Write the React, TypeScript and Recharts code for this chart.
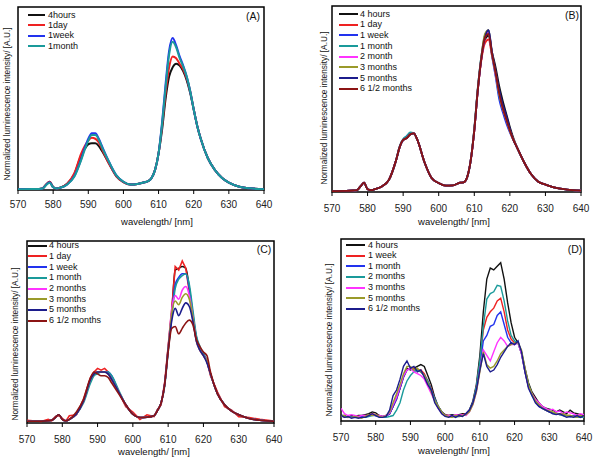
import React from 'react';
import { LineChart, Line, XAxis, YAxis, ReferenceArea } from 'recharts';

const FONT = '"Liberation Sans", Arial, Helvetica, sans-serif';

const TICKS = [570, 580, 590, 600, 610, 620, 630, 640];

const W = [570, 574, 576, 577, 578, 579, 580, 581, 582, 584, 586, 588, 589, 590, 591, 592, 593, 594, 596, 598, 600, 602, 604, 606, 607, 608, 609, 610, 611, 612, 613, 614, 615, 616, 617, 618, 619, 620, 621, 622, 624, 626, 628, 630, 633, 636, 640];

const W_FINE = [570, 571, 572, 573, 574, 575, 576, 577, 578, 579, 580, 581, 582, 583, 584, 585, 586, 587, 588, 589, 590, 591, 592, 593, 594, 595, 596, 597, 598, 599, 600, 601, 602, 603, 604, 605, 606, 607, 608, 609, 610, 611, 612, 613, 614, 615, 616, 617, 618, 619, 620, 621, 622, 623, 624, 625, 626, 627, 628, 629, 630, 631, 632, 633, 634, 635, 636, 637, 638, 639, 640];

// ---------- Panel A ----------
const A_4HOURS = [0.004, 0.005, 0.006, 0.009, 0.03, 0.045, 0.016, 0.008, 0.013,
  0.034, 0.085, 0.19, 0.225, 0.25, 0.255, 0.255, 0.24, 0.21,
  0.14, 0.075, 0.043, 0.03, 0.033, 0.042, 0.048, 0.066, 0.11,
  0.2, 0.33, 0.5, 0.62, 0.67, 0.69, 0.68, 0.65, 0.6,
  0.53, 0.44, 0.35, 0.28, 0.175, 0.11, 0.067, 0.04, 0.018,
  0.009, 0.004];
const A_1DAY = [0.004, 0.005, 0.006, 0.009, 0.03, 0.045, 0.016, 0.008, 0.013,
  0.035, 0.09, 0.2, 0.24, 0.27, 0.285, 0.28, 0.26, 0.22,
  0.14, 0.075, 0.043, 0.03, 0.033, 0.042, 0.048, 0.066, 0.11,
  0.2, 0.35, 0.53, 0.67, 0.73, 0.72, 0.69, 0.66, 0.61,
  0.54, 0.44, 0.35, 0.28, 0.175, 0.11, 0.067, 0.04, 0.018,
  0.009, 0.004];
const A_1WEEK = [0.004, 0.005, 0.006, 0.008, 0.028, 0.043, 0.015, 0.008, 0.012,
  0.03, 0.075, 0.17, 0.23, 0.28, 0.31, 0.31, 0.28, 0.235,
  0.15, 0.08, 0.045, 0.03, 0.033, 0.042, 0.048, 0.066, 0.11,
  0.2, 0.37, 0.58, 0.76, 0.83, 0.79, 0.73, 0.68, 0.62,
  0.54, 0.44, 0.35, 0.28, 0.175, 0.11, 0.067, 0.04, 0.018,
  0.009, 0.004];
const A_1MONTH = [0.004, 0.005, 0.006, 0.008, 0.026, 0.04, 0.015, 0.008, 0.012,
  0.03, 0.072, 0.165, 0.22, 0.27, 0.3, 0.3, 0.275, 0.23,
  0.15, 0.08, 0.045, 0.03, 0.033, 0.042, 0.048, 0.066, 0.11,
  0.2, 0.36, 0.56, 0.74, 0.81, 0.78, 0.72, 0.675, 0.62,
  0.54, 0.44, 0.35, 0.28, 0.175, 0.11, 0.067, 0.04, 0.018,
  0.009, 0.004];

// ---------- Panel B ----------
const B_4H = [0.005, 0.006, 0.008, 0.01, 0.03, 0.05, 0.015, 0.01, 0.015,
  0.03, 0.065, 0.17, 0.24, 0.28, 0.29, 0.31, 0.315, 0.28,
  0.16, 0.075, 0.048, 0.034, 0.036, 0.05, 0.052, 0.08, 0.17,
  0.33, 0.55, 0.72, 0.82, 0.84, 0.75, 0.67, 0.57, 0.49,
  0.42, 0.35, 0.29, 0.24, 0.16, 0.095, 0.055, 0.04, 0.022,
  0.013, 0.007];
const B_1D = [0.005, 0.006, 0.008, 0.01, 0.03, 0.05, 0.015, 0.01, 0.015,
  0.03, 0.065, 0.17, 0.24, 0.28, 0.29, 0.31, 0.315, 0.28,
  0.16, 0.075, 0.048, 0.034, 0.036, 0.05, 0.052, 0.08, 0.17,
  0.33, 0.55, 0.71, 0.8, 0.82, 0.73, 0.64, 0.53, 0.45,
  0.39, 0.33, 0.28, 0.24, 0.16, 0.095, 0.055, 0.04, 0.022,
  0.013, 0.007];
const B_1W = [0.005, 0.006, 0.008, 0.01, 0.03, 0.05, 0.015, 0.01, 0.015,
  0.03, 0.065, 0.17, 0.24, 0.28, 0.3, 0.315, 0.315, 0.28,
  0.16, 0.075, 0.048, 0.034, 0.036, 0.05, 0.052, 0.08, 0.17,
  0.34, 0.56, 0.73, 0.84, 0.87, 0.73, 0.62, 0.5, 0.43,
  0.37, 0.32, 0.28, 0.24, 0.16, 0.095, 0.055, 0.04, 0.022,
  0.013, 0.007];
const B_1M = [0.005, 0.006, 0.008, 0.01, 0.03, 0.05, 0.015, 0.01, 0.015,
  0.03, 0.065, 0.17, 0.245, 0.285, 0.3, 0.32, 0.315, 0.28,
  0.16, 0.075, 0.048, 0.034, 0.036, 0.05, 0.052, 0.08, 0.17,
  0.34, 0.56, 0.73, 0.84, 0.86, 0.74, 0.63, 0.52, 0.45,
  0.39, 0.33, 0.28, 0.24, 0.16, 0.095, 0.055, 0.04, 0.022,
  0.013, 0.007];
const B_2M = [0.005, 0.006, 0.008, 0.01, 0.03, 0.05, 0.015, 0.01, 0.015,
  0.03, 0.065, 0.17, 0.24, 0.28, 0.29, 0.31, 0.315, 0.28,
  0.16, 0.075, 0.048, 0.034, 0.036, 0.05, 0.052, 0.08, 0.17,
  0.33, 0.55, 0.72, 0.83, 0.86, 0.74, 0.63, 0.53, 0.45,
  0.39, 0.33, 0.28, 0.24, 0.16, 0.095, 0.055, 0.04, 0.022,
  0.013, 0.007];
const B_3M = [0.005, 0.006, 0.008, 0.01, 0.03, 0.05, 0.015, 0.01, 0.015,
  0.03, 0.065, 0.17, 0.24, 0.28, 0.29, 0.31, 0.315, 0.28,
  0.16, 0.075, 0.048, 0.034, 0.036, 0.05, 0.052, 0.08, 0.17,
  0.34, 0.56, 0.73, 0.85, 0.87, 0.74, 0.64, 0.53, 0.45,
  0.39, 0.33, 0.28, 0.24, 0.16, 0.095, 0.055, 0.04, 0.022,
  0.013, 0.007];
const B_5M = [0.005, 0.006, 0.008, 0.01, 0.03, 0.05, 0.015, 0.01, 0.015,
  0.03, 0.065, 0.17, 0.24, 0.28, 0.29, 0.31, 0.315, 0.28,
  0.16, 0.075, 0.048, 0.034, 0.036, 0.05, 0.052, 0.08, 0.17,
  0.33, 0.55, 0.72, 0.83, 0.87, 0.75, 0.65, 0.55, 0.47,
  0.41, 0.34, 0.28, 0.24, 0.16, 0.095, 0.055, 0.04, 0.022,
  0.013, 0.007];
const B_6H = [0.005, 0.006, 0.008, 0.01, 0.03, 0.05, 0.015, 0.01, 0.015,
  0.03, 0.065, 0.17, 0.24, 0.28, 0.29, 0.31, 0.315, 0.28,
  0.16, 0.075, 0.048, 0.034, 0.036, 0.05, 0.052, 0.08, 0.17,
  0.33, 0.55, 0.72, 0.83, 0.85, 0.74, 0.64, 0.53, 0.45,
  0.39, 0.33, 0.28, 0.24, 0.16, 0.095, 0.055, 0.04, 0.022,
  0.013, 0.007];

// ---------- Panel C ----------
const C_4H = [0.01, 0.01, 0.012, 0.015, 0.03, 0.045, 0.02, 0.012, 0.02,
  0.05, 0.12, 0.24, 0.27, 0.28, 0.28, 0.28, 0.27, 0.24,
  0.17, 0.1, 0.048, 0.03, 0.032, 0.04, 0.07, 0.11, 0.21,
  0.41, 0.6, 0.84, 0.85, 0.86, 0.85, 0.74, 0.58, 0.46,
  0.41, 0.38, 0.34, 0.27, 0.16, 0.1, 0.065, 0.045, 0.025,
  0.015, 0.01];
const C_1D = [0.015, 0.008, 0.02, 0.012, 0.035, 0.04, 0.025, 0.01, 0.04,
  0.045, 0.13, 0.25, 0.28, 0.3, 0.29, 0.3, 0.28, 0.24,
  0.17, 0.09, 0.06, 0.02, 0.045, 0.035, 0.075, 0.1, 0.22,
  0.42, 0.62, 0.86, 0.84, 0.89, 0.85, 0.72, 0.57, 0.47,
  0.4, 0.37, 0.34, 0.26, 0.17, 0.09, 0.07, 0.035, 0.03,
  0.02, 0.01];
const C_1W = [0.01, 0.01, 0.012, 0.015, 0.03, 0.045, 0.02, 0.012, 0.02,
  0.05, 0.12, 0.23, 0.27, 0.28, 0.28, 0.28, 0.28, 0.26,
  0.17, 0.1, 0.048, 0.03, 0.032, 0.04, 0.07, 0.11, 0.21,
  0.4, 0.6, 0.76, 0.8, 0.82, 0.82, 0.74, 0.6, 0.47,
  0.41, 0.38, 0.34, 0.27, 0.16, 0.1, 0.065, 0.045, 0.025,
  0.015, 0.01];
const C_1M = [0.01, 0.01, 0.012, 0.015, 0.03, 0.045, 0.02, 0.012, 0.02,
  0.05, 0.11, 0.22, 0.26, 0.27, 0.28, 0.28, 0.28, 0.26,
  0.18, 0.1, 0.048, 0.03, 0.032, 0.04, 0.07, 0.11, 0.2,
  0.39, 0.58, 0.74, 0.79, 0.81, 0.82, 0.76, 0.62, 0.48,
  0.42, 0.38, 0.34, 0.27, 0.16, 0.1, 0.065, 0.045, 0.025,
  0.015, 0.01];
const C_2M = [0.01, 0.01, 0.012, 0.015, 0.03, 0.045, 0.02, 0.012, 0.02,
  0.05, 0.12, 0.24, 0.27, 0.28, 0.28, 0.28, 0.27, 0.24,
  0.17, 0.1, 0.048, 0.03, 0.032, 0.04, 0.07, 0.11, 0.21,
  0.41, 0.62, 0.7, 0.68, 0.73, 0.75, 0.7, 0.58, 0.45,
  0.4, 0.37, 0.34, 0.27, 0.16, 0.1, 0.065, 0.045, 0.025,
  0.015, 0.01];
const C_3M = [0.01, 0.01, 0.012, 0.015, 0.03, 0.045, 0.02, 0.012, 0.02,
  0.05, 0.12, 0.24, 0.27, 0.28, 0.28, 0.28, 0.27, 0.24,
  0.17, 0.1, 0.048, 0.03, 0.032, 0.04, 0.07, 0.11, 0.21,
  0.41, 0.6, 0.67, 0.65, 0.69, 0.71, 0.68, 0.58, 0.45,
  0.4, 0.37, 0.34, 0.27, 0.16, 0.1, 0.065, 0.045, 0.025,
  0.015, 0.01];
const C_5M = [0.01, 0.01, 0.012, 0.015, 0.03, 0.045, 0.02, 0.012, 0.02,
  0.05, 0.12, 0.24, 0.27, 0.28, 0.28, 0.28, 0.27, 0.24,
  0.17, 0.1, 0.048, 0.03, 0.032, 0.04, 0.07, 0.11, 0.21,
  0.4, 0.56, 0.63, 0.59, 0.63, 0.66, 0.64, 0.56, 0.45,
  0.4, 0.37, 0.33, 0.27, 0.16, 0.1, 0.065, 0.045, 0.025,
  0.015, 0.01];
const C_6H = [0.01, 0.01, 0.012, 0.015, 0.03, 0.045, 0.02, 0.012, 0.02,
  0.06, 0.13, 0.25, 0.28, 0.27, 0.26, 0.26, 0.25, 0.22,
  0.16, 0.1, 0.048, 0.03, 0.032, 0.04, 0.07, 0.11, 0.21,
  0.39, 0.52, 0.53, 0.49, 0.52, 0.55, 0.565, 0.54, 0.46,
  0.42, 0.39, 0.37, 0.28, 0.16, 0.1, 0.065, 0.045, 0.025,
  0.015, 0.01];

// ---------- Panel D ----------
const D_4H = [0.03, 0.03, 0.02, 0.03, 0.025, 0.03, 0.03, 0.035, 0.04, 0.05,
  0.045, 0.03, 0.025, 0.03, 0.04, 0.08, 0.13, 0.18, 0.25, 0.29,
  0.28, 0.29, 0.3, 0.31, 0.3, 0.25, 0.2, 0.13, 0.08, 0.05,
  0.035, 0.03, 0.035, 0.03, 0.035, 0.04, 0.04, 0.06, 0.11, 0.2,
  0.36, 0.6, 0.78, 0.84, 0.83, 0.85, 0.87, 0.78, 0.65, 0.54,
  0.46, 0.43, 0.38, 0.29, 0.21, 0.16, 0.13, 0.1, 0.08, 0.07,
  0.065, 0.06, 0.05, 0.06, 0.05, 0.04, 0.06, 0.045, 0.04, 0.035, 0.03];
const D_1W = [0.03, 0.02, 0.025, 0.02, 0.02, 0.025, 0.02, 0.025, 0.03, 0.04,
  0.035, 0.025, 0.02, 0.03, 0.04, 0.08, 0.12, 0.18, 0.24, 0.28,
  0.29, 0.29, 0.28, 0.28, 0.26, 0.22, 0.18, 0.12, 0.08, 0.05,
  0.03, 0.03, 0.025, 0.03, 0.03, 0.035, 0.04, 0.06, 0.1, 0.19,
  0.32, 0.5, 0.57, 0.6, 0.62, 0.66, 0.675, 0.6, 0.5, 0.45,
  0.43, 0.43, 0.37, 0.27, 0.19, 0.15, 0.11, 0.09, 0.07, 0.06,
  0.05, 0.045, 0.04, 0.04, 0.035, 0.03, 0.03, 0.025, 0.03, 0.025, 0.02];
const D_1M = [0.03, 0.025, 0.02, 0.025, 0.02, 0.02, 0.025, 0.02, 0.03, 0.035,
  0.03, 0.025, 0.02, 0.025, 0.04, 0.08, 0.12, 0.18, 0.24, 0.28,
  0.29, 0.28, 0.28, 0.27, 0.25, 0.22, 0.17, 0.12, 0.08, 0.05,
  0.03, 0.025, 0.03, 0.025, 0.03, 0.03, 0.04, 0.06, 0.1, 0.18,
  0.3, 0.44, 0.47, 0.52, 0.53, 0.58, 0.6, 0.53, 0.46, 0.43,
  0.42, 0.43, 0.37, 0.27, 0.19, 0.14, 0.11, 0.08, 0.07, 0.06,
  0.05, 0.045, 0.04, 0.035, 0.03, 0.03, 0.025, 0.03, 0.02, 0.025, 0.02];
const D_2M = [0.025, 0.025, 0.02, 0.02, 0.02, 0.02, 0.02, 0.02, 0.025, 0.03,
  0.03, 0.025, 0.02, 0.02, 0.025, 0.03, 0.06, 0.1, 0.17, 0.22,
  0.25, 0.27, 0.28, 0.27, 0.25, 0.22, 0.17, 0.12, 0.08, 0.05,
  0.03, 0.025, 0.025, 0.025, 0.025, 0.03, 0.035, 0.06, 0.1, 0.19,
  0.33, 0.52, 0.67, 0.7, 0.71, 0.745, 0.74, 0.66, 0.55, 0.47,
  0.44, 0.43, 0.37, 0.28, 0.2, 0.15, 0.11, 0.09, 0.07, 0.06,
  0.05, 0.045, 0.04, 0.035, 0.03, 0.03, 0.025, 0.025, 0.02, 0.02, 0.02];
const D_3M = [0.07, 0.04, 0.03, 0.035, 0.03, 0.025, 0.03, 0.03, 0.03, 0.035,
  0.03, 0.03, 0.025, 0.03, 0.045, 0.09, 0.13, 0.19, 0.25, 0.28,
  0.29, 0.27, 0.26, 0.25, 0.23, 0.19, 0.15, 0.11, 0.07, 0.045,
  0.03, 0.03, 0.025, 0.035, 0.03, 0.035, 0.03, 0.05, 0.09, 0.16,
  0.28, 0.39, 0.36, 0.33, 0.38, 0.43, 0.46, 0.44, 0.41, 0.42,
  0.42, 0.43, 0.37, 0.28, 0.19, 0.15, 0.12, 0.1, 0.08, 0.07,
  0.06, 0.065, 0.05, 0.055, 0.04, 0.05, 0.045, 0.04, 0.03, 0.04, 0.035];
const D_5M = [0.025, 0.03, 0.02, 0.02, 0.025, 0.02, 0.015, 0.025, 0.035, 0.03,
  0.035, 0.025, 0.02, 0.03, 0.05, 0.1, 0.15, 0.2, 0.26, 0.3,
  0.3, 0.28, 0.29, 0.27, 0.25, 0.21, 0.16, 0.11, 0.08, 0.05,
  0.03, 0.025, 0.02, 0.03, 0.025, 0.03, 0.035, 0.05, 0.09, 0.16,
  0.27, 0.38, 0.31, 0.29, 0.3, 0.33, 0.37, 0.39, 0.41, 0.42,
  0.43, 0.43, 0.39, 0.29, 0.2, 0.15, 0.11, 0.09, 0.07, 0.06,
  0.055, 0.05, 0.04, 0.035, 0.04, 0.03, 0.03, 0.025, 0.02, 0.03, 0.025];
const D_6H = [0.03, 0.02, 0.025, 0.015, 0.02, 0.015, 0.02, 0.02, 0.03, 0.04,
  0.03, 0.02, 0.02, 0.025, 0.06, 0.14, 0.17, 0.23, 0.3, 0.33,
  0.29, 0.3, 0.27, 0.28, 0.24, 0.2, 0.17, 0.1, 0.07, 0.04,
  0.025, 0.02, 0.03, 0.02, 0.03, 0.025, 0.04, 0.06, 0.1, 0.17,
  0.28, 0.37, 0.3, 0.27, 0.28, 0.31, 0.35, 0.38, 0.41, 0.43,
  0.42, 0.44, 0.38, 0.27, 0.18, 0.14, 0.1, 0.08, 0.07, 0.06,
  0.05, 0.04, 0.035, 0.04, 0.03, 0.02, 0.025, 0.02, 0.03, 0.02, 0.03];

const COL = {
  black: '#111111',
  red: '#ee2222',
  blue: '#2233ee',
  teal: '#1a9a9a',
  magenta: '#ff33ff',
  olive: '#9a9a2a',
  navy: '#1c1c8c',
  darkred: '#8c1414',
};

type S = { key: string; name: string; color: string; values: number[]; type?: 'monotone' | 'linear' };

const SERIES_A: S[] = [
  { key: 'a0', name: '4hours', color: COL.black, values: A_4HOURS },
  { key: 'a1', name: '1day', color: COL.red, values: A_1DAY },
  { key: 'a2', name: '1week', color: COL.blue, values: A_1WEEK },
  { key: 'a3', name: '1month', color: COL.teal, values: A_1MONTH },
];
const SERIES_B: S[] = [
  { key: 'b0', name: '4 hours', color: COL.black, values: B_4H },
  { key: 'b1', name: '1 day', color: COL.red, values: B_1D },
  { key: 'b2', name: '1 week', color: COL.blue, values: B_1W },
  { key: 'b3', name: '1 month', color: COL.teal, values: B_1M },
  { key: 'b4', name: '2 month', color: COL.magenta, values: B_2M },
  { key: 'b5', name: '3 months', color: COL.olive, values: B_3M },
  { key: 'b6', name: '5 months', color: COL.navy, values: B_5M },
  { key: 'b7', name: '6 1/2 months', color: COL.darkred, values: B_6H },
];
const SERIES_C: S[] = [
  { key: 'c0', name: '4 hours', color: COL.black, values: C_4H },
  { key: 'c1', name: '1 day', color: COL.red, values: C_1D, type: 'linear' },
  { key: 'c2', name: '1 week', color: COL.blue, values: C_1W },
  { key: 'c3', name: '1 month', color: COL.teal, values: C_1M },
  { key: 'c4', name: '2 months', color: COL.magenta, values: C_2M },
  { key: 'c5', name: '3 months', color: COL.olive, values: C_3M },
  { key: 'c6', name: '5 months', color: COL.navy, values: C_5M },
  { key: 'c7', name: '6 1/2 months', color: COL.darkred, values: C_6H },
];
const SERIES_D: S[] = [
  { key: 'd0', name: '4 hours', color: COL.black, values: D_4H, type: 'linear' },
  { key: 'd1', name: '1 week', color: COL.red, values: D_1W, type: 'linear' },
  { key: 'd2', name: '1 month', color: COL.blue, values: D_1M, type: 'linear' },
  { key: 'd3', name: '2 months', color: COL.teal, values: D_2M, type: 'linear' },
  { key: 'd4', name: '3 months', color: COL.magenta, values: D_3M, type: 'linear' },
  { key: 'd5', name: '5 months', color: COL.olive, values: D_5M, type: 'linear' },
  { key: 'd6', name: '6 1/2 months', color: COL.navy, values: D_6H, type: 'linear' },
];

type PanelProps = {
  box: [number, number, number, number];
  plot: [number, number, number, number];
  grid: number[];
  series: S[];
  label: string;
  labelPos: [number, number];
  legend: { lx0: number; lx1: number; tx: number; y0: number; dy: number };
  xTitlePos: [number, number];
  yTitlePos: [number, number];
  strokeW: number;
  tickMargin: number;
};

function Panel(p: PanelProps) {
  const [bx, by, bw, bh] = p.box;
  const [x0, x1, y0, y1] = p.plot;
  const data = p.grid.map((w, i) => {
    const o: Record<string, number> = { w };
    p.series.forEach((s) => {
      o[s.key] = s.values[i];
    });
    return o;
  });
  const textStyle: React.CSSProperties = {
    position: 'absolute',
    fontFamily: FONT,
    color: '#111',
    whiteSpace: 'nowrap',
  };
  return (
    <div style={{ position: 'absolute', left: bx, top: by, width: bw, height: bh }}>
      <LineChart
        width={bw}
        height={bh}
        data={data}
        margin={{ top: y0, left: x0, right: bw - x1, bottom: bh - y1 - 30 }}
      >
        <XAxis
          type="number"
          dataKey="w"
          domain={[570, 640]}
          ticks={TICKS}
          interval={0}
          height={30}
          tickSize={4}
          tickMargin={p.tickMargin}
          axisLine={false}
          tickLine={{ stroke: '#000' }}
          tick={{ fontSize: 10, fill: '#222', fontFamily: FONT }}
          allowDataOverflow
        />
        <YAxis hide type="number" domain={[0, 1]} allowDataOverflow />
        <ReferenceArea
          x1={570}
          x2={640}
          y1={0}
          y2={1}
          fill="none"
          fillOpacity={0}
          stroke="#000"
          strokeWidth={1.5}
          ifOverflow="visible"
        />
        {p.series.map((s) => (
          <Line
            key={s.key}
            dataKey={s.key}
            name={s.name}
            stroke={s.color}
            strokeWidth={p.strokeW}
            dot={false}
            activeDot={false}
            type={s.type ?? 'monotone'}
            isAnimationActive={false}
          />
        ))}
      </LineChart>
      {p.series.map((s, i) => {
        const y = p.legend.y0 + i * p.legend.dy;
        return (
          <React.Fragment key={'lg' + s.key}>
            <div
              style={{
                position: 'absolute',
                left: p.legend.lx0,
                top: y - 1,
                width: p.legend.lx1 - p.legend.lx0,
                height: 2,
                background: s.color,
              }}
            />
            <div style={{ ...textStyle, left: p.legend.tx, top: y - 5.5, fontSize: 9, lineHeight: '11px' }}>
              {s.name}
            </div>
          </React.Fragment>
        );
      })}
      <div
        style={{
          ...textStyle,
          left: p.labelPos[0],
          top: p.labelPos[1],
          fontSize: 10.5,
          lineHeight: '12px',
          transform: 'translate(-50%, -50%)',
        }}
      >
        {p.label}
      </div>
      <div
        style={{
          ...textStyle,
          left: p.xTitlePos[0],
          top: p.xTitlePos[1],
          fontSize: 9.5,
          lineHeight: '11px',
          transform: 'translate(-50%, -50%)',
        }}
      >
        wavelength/ [nm]
      </div>
      <div
        style={{
          ...textStyle,
          left: p.yTitlePos[0],
          top: p.yTitlePos[1],
          fontSize: 8.3,
          lineHeight: '10px',
          transform: 'translate(-50%, -50%) rotate(-90deg)',
        }}
      >
        Normalized luminescence intensity/ [A.U.]
      </div>
    </div>
  );
}

export default function App() {
  return (
    <div style={{ position: 'absolute', left: 0, top: 0, width: 593, height: 457, background: '#fff', overflow: 'hidden' }}>
      <Panel
        box={[0, 0, 296, 228]}
        plot={[18, 264, 7, 190]}
        grid={W}
        series={SERIES_A}
        label="(A)"
        labelPos={[253, 16]}
        legend={{ lx0: 28, lx1: 45, tx: 48, y0: 15, dy: 10.4 }}
        xTitlePos={[157, 221]}
        yTitlePos={[7, 104]}
        strokeW={2}
        tickMargin={7}
      />
      <Panel
        box={[296, 0, 297, 228]}
        plot={[36, 285, 6, 192]}
        grid={W}
        series={SERIES_B}
        label="(B)"
        labelPos={[276, 15]}
        legend={{ lx0: 43, lx1: 62, tx: 64, y0: 14, dy: 10.67 }}
        xTitlePos={[158, 221]}
        yTitlePos={[28, 108]}
        strokeW={1.8}
        tickMargin={9}
      />
      <Panel
        box={[0, 228, 296, 229]}
        plot={[27, 274, 13, 195]}
        grid={W}
        series={SERIES_C}
        label="(C)"
        labelPos={[264, 21]}
        legend={{ lx0: 28, lx1: 47, tx: 49, y0: 17.7, dy: 10.7 }}
        xTitlePos={[154, 222.5]}
        yTitlePos={[15, 116]}
        strokeW={1.6}
        tickMargin={9}
      />
      <Panel
        box={[296, 228, 297, 229]}
        plot={[45, 288, 11, 193]}
        grid={W_FINE}
        series={SERIES_D}
        label="(D)"
        labelPos={[279, 21]}
        legend={{ lx0: 50, lx1: 69, tx: 72, y0: 17.3, dy: 10.55 }}
        xTitlePos={[158, 222]}
        yTitlePos={[33, 112]}
        strokeW={1.4}
        tickMargin={9}
      />
    </div>
  );
}
